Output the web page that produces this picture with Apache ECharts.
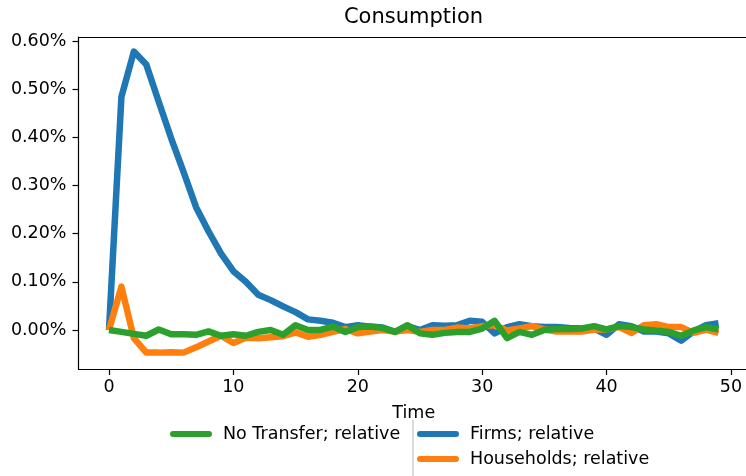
<!DOCTYPE html>
<html>
<head>
<meta charset="utf-8">
<script src="https://cdn.jsdelivr.net/npm/echarts@6/dist/echarts.min.js"></script>
<style>
html,body{margin:0;padding:0;background:#fff;overflow:hidden;}
#chart{width:746px;height:476px;}
</style>
</head>
<body>
<div id="chart"></div>
<script>
const time = [0,1,2,3,4,5,6,7,8,9,10,11,12,13,14,15,16,17,18,19,20,21,22,23,24,25,26,27,28,29,30,31,32,33,34,35,36,37,38,39,40,41,42,43,44,45,46,47,48,49];
// values in percent
const firms = [0,0.484,0.578,0.551,0.474,0.398,0.328,0.255,0.205,0.159,0.122,0.100,0.073,0.062,0.049,0.037,0.022,0.019,0.015,0.006,0.010,0.007,0.005,-0.004,0.008,0.000,0.010,0.009,0.010,0.019,0.017,-0.007,0.006,0.012,0.008,0.006,0.006,0.004,0.003,0.003,-0.010,0.012,0.008,-0.003,-0.003,-0.007,-0.022,-0.003,0.010,0.014];
const households = [0,0.090,-0.017,-0.047,-0.047,-0.046,-0.047,-0.036,-0.024,-0.012,-0.027,-0.016,-0.017,-0.015,-0.013,-0.005,-0.014,-0.010,-0.004,0.002,-0.007,-0.003,0.000,-0.003,0.000,-0.004,0.000,0.000,0.005,0.003,0.008,0.010,-0.001,0.003,0.008,0.001,-0.003,-0.003,-0.003,0.001,0.001,0.006,-0.006,0.010,0.012,0.006,0.006,-0.006,0.001,-0.006];
const noTransfer = [0,-0.004,-0.008,-0.012,0.001,-0.009,-0.009,-0.010,-0.003,-0.012,-0.009,-0.012,-0.004,0.000,-0.010,0.010,0.000,0.000,0.007,-0.004,0.006,0.007,0.004,-0.004,0.010,-0.007,-0.010,-0.006,-0.004,-0.004,0.003,0.019,-0.017,-0.004,-0.010,0.000,0.002,0.002,0.003,0.008,0.001,0.008,0.006,0.001,-0.001,-0.004,-0.012,-0.001,0.006,0.001];
const xTicks = [0,10,20,30,40,50];
const yTicks = [0,0.1,0.2,0.3,0.4,0.5,0.6];
const names = ['No Transfer; relative','Firms; relative','Households; relative'];
const colors = {nt:'#2ca02c', f:'#1f77b4', h:'#ff7f0e'};

const pairs = arr => time.map((t,i)=>[t,arr[i]]);
const font = 'DejaVu Sans';
const capsule = 'path://M3,0 L39,0 A3,3 0 0 1 39,6 L3,6 A3,3 0 0 1 3,0 Z';

const chart = echarts.init(document.getElementById('chart'), null, {renderer:'canvas'});
const lineSeries = (name, data, color) => ({
  name, type:'line', data: pairs(data), showSymbol:false, symbol:'none',
  lineStyle:{color, width:6.5, join:'round', cap:'butt'}, itemStyle:{color},
  emphasis:{disabled:true}, animation:false
});
const legendBase = (name, left, top) => ({
  data:[name], left, top, padding:0, orient:'horizontal',
  itemWidth:42, itemHeight:6.5, icon:capsule,
  textStyle:{fontFamily:font, fontSize:17.5, color:'#000', padding:[0,0,0,6], lineHeight:20}
});
// x range with matplotlib-like margins; plot's right edge falls just outside the canvas
const xMin = -2.45, xMax = 51.45;
chart.setOption({
  animation:false,
  backgroundColor:'#fff',
  title:{text:'Consumption', left:413.5, textAlign:'center', top:7, padding:0,
    textStyle:{fontFamily:font, fontSize:21, fontWeight:'normal', color:'#000'}},
  grid:{left:78.5, right:-3, top:37, bottom:107, show:false, outerBoundsMode:'none', containLabel:false},
  xAxis:[{type:'value', min:xMin, max:xMax, position:'bottom',
    name:'Time', nameLocation:'middle', nameGap:35,
    nameTextStyle:{fontFamily:font, fontSize:17.5, color:'#000'},
    axisLine:{show:true, onZero:false, lineStyle:{color:'#000', width:1.2}},
    axisTick:{show:true, length:6, lineStyle:{color:'#000', width:1.2}, customValues:xTicks},
    axisLabel:{fontFamily:font, fontSize:17.5, color:'#000', margin:9, customValues:xTicks, formatter:v=>String(v)},
    splitLine:{show:false}},
    {type:'value', min:xMin, max:xMax, position:'top',
    axisLine:{show:true, onZero:false, lineStyle:{color:'#000', width:1.2}},
    axisTick:{show:false}, axisLabel:{show:false}, splitLine:{show:false}}],
  yAxis:[{type:'value', min:-0.081, max:0.6083, position:'left',
    axisLine:{show:true, onZero:false, lineStyle:{color:'#000', width:1.2}},
    axisTick:{show:true, length:6, lineStyle:{color:'#000', width:1.2}, customValues:yTicks},
    axisLabel:{fontFamily:font, fontSize:17.5, color:'#000', margin:12, customValues:yTicks, formatter:v=>v.toFixed(2)+'%'},
    splitLine:{show:false}, splitArea:{show:false}}],
  legend:[
    legendBase(names[0], 170, 424),
    legendBase(names[1], 417, 424),
    legendBase(names[2], 417, 449)
  ],
  graphic:[
    {type:'line', shape:{x1:413, y1:420, x2:413, y2:476}, style:{stroke:'#cccccc', lineWidth:1.5}, z:0}
  ],
  series:[
    lineSeries(names[1], firms, colors.f),
    lineSeries(names[2], households, colors.h),
    lineSeries(names[0], noTransfer, colors.nt)
  ]
});
</script>
</body>
</html>
